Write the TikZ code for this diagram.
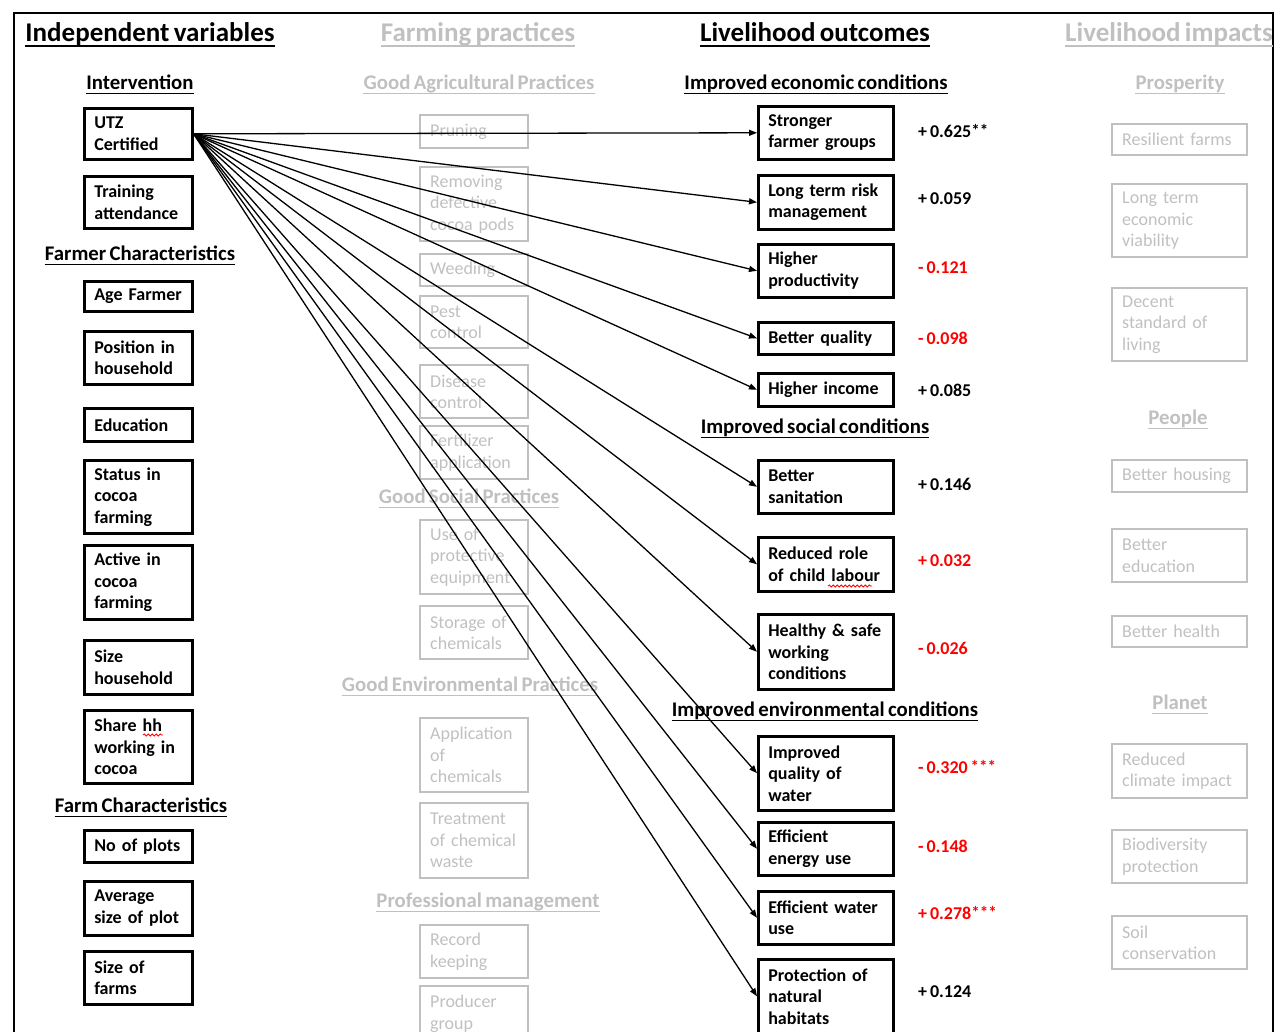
\documentclass[tikz,border=0pt]{standalone}
\usepackage{fontspec}
\setmainfont{Carlito}[WordSpace=0.7]
\usetikzlibrary{arrows.meta,decorations.pathmorphing}
\definecolor{ghost}{RGB}{192,192,192}
\definecolor{sigred}{RGB}{255,0,0}
\newcommand\boxfont{\fontsize{18}{21.5}\selectfont}
\newcommand\Heading[5]{%
    \node[#1] (#2) at (#3,#4) {#5};
    \draw[line width=1.5pt] ([yshift=-4pt]#2.base west) -- ([yshift=-4pt]#2.base east);
}
\newcommand\Effect[4]{%
    \node[effect, text=#4] (#1) at (918,#2) {#3};
}
\newcommand\Stars[1]{\raisebox{1.5pt}{\fontsize{17}{17}\selectfont #1}}

\begin{document}
\begin{tikzpicture}[x=1pt,y=-1pt,
    title/.style={anchor=base, inner sep=0pt, font=\fontsize{27}{30}\selectfont\bfseries},
    sub/.style={anchor=base, inner sep=0pt, font=\fontsize{20.8}{24}\selectfont\bfseries},
    varbox/.style={draw, line width=2.6pt, anchor=north west, align=left,
        text width=88pt, inner xsep=10pt, inner ysep=0pt, font=\boxfont\bfseries},
    pracbox/.style={varbox, line width=2.4pt, font=\boxfont},
    outbox/.style={varbox, text width=115pt},
    impbox/.style={pracbox, text width=115pt},
    effect/.style={anchor=west, inner sep=0pt, font=\boxfont\bfseries},
    link/.style={line width=1.3pt, -{Triangle[length=8pt,width=6pt]}},
    squiggle/.style={color=sigred, line width=0.8pt, decorate,
        decoration={snake, amplitude=1.1pt, segment length=4pt}}]
    \useasboundingbox (0,0) rectangle (1275,1032);
    \draw[line width=1.8pt] (14,1032) -- (14,13) -- (1273,13) -- (1273,1032);

    % independent variables
    \Heading{title}{hIndep}{150}{42}{Independent variables}
    \Heading{sub}{hInterv}{140}{89.5}{Intervention}
    \Heading{sub}{hFarmer}{140}{260.5}{Farmer Characteristics}
    \Heading{sub}{hFarm}{141}{812.5}{Farm Characteristics}
    \node[varbox, minimum height=51pt] (utz) at (83,107) {UTZ\\Certified};
    \node[varbox, minimum height=52pt] (train) at (83,175) {Training\\attendance};
    \node[varbox, minimum height=30pt] (age) at (83,280) {Age Farmer};
    \node[varbox, minimum height=53pt] (pos) at (83,330) {Position in\\household};
    \node[varbox, minimum height=33pt] (edu) at (83,407) {Education};
    \node[varbox, minimum height=73pt] (status) at (83,459) {Status in\\cocoa\\farming};
    \node[varbox, minimum height=74pt] (active) at (83,544) {Active in\\cocoa\\farming};
    \node[varbox, minimum height=54pt] (sizehh) at (83,639) {Size\\household};
    \node[varbox, minimum height=73pt] (share) at (83,709) {Share hh\\working in\\cocoa};
    \node[varbox, minimum height=32pt] (plots) at (83,829) {No of plots};
    \node[varbox, minimum height=54pt] (avgplot) at (83,880) {Average\\size of plot};
    \node[varbox, minimum height=53pt] (farms) at (83,950) {Size of\\farms};

    \begin{scope}[color=ghost] % farming practices
        \Heading{title}{hPract}{478}{42}{Farming practices}
        \Heading{sub}{hAgri}{479}{89.5}{Good Agricultural Practices}
        \Heading{sub}{hSocial}{469}{503.5}{Good Social Practices}
        \Heading{sub}{hEnv}{470}{691.5}{Good Environmental Practices}
        \Heading{sub}{hProf}{488}{907.5}{Professional management}
        \node[pracbox, minimum height=33pt] (prun) at (419,114) {Pruning};
        \node[pracbox, minimum height=74pt] (pods) at (419,166) {Removing\\defective\\cocoa pods};
        \node[pracbox, minimum height=32pt] (weed) at (419,253) {Weeding};
        \node[pracbox, minimum height=52pt] (pest) at (419,295) {Pest\\control};
        \node[pracbox, minimum height=53pt] (disease) at (419,364) {Disease\\control};
        \node[pracbox, minimum height=53pt] (fert) at (419,425) {Fertilizer\\application};
        \node[pracbox, minimum height=74pt] (equip) at (419,519) {Use of\\protective\\equipment};
        \node[pracbox, minimum height=53pt] (storage) at (419,605) {Storage of\\chemicals};
        \node[pracbox, minimum height=74pt] (applic) at (419,717) {Application\\of\\chemicals};
        \node[pracbox, minimum height=75pt] (waste) at (419,802) {Treatment\\of chemical\\waste};
        \node[pracbox, minimum height=53pt] (record) at (419,924) {Record\\keeping};
        \node[pracbox, minimum height=55pt] (producer) at (419,985) {Producer\\group};
    \end{scope}

    % livelihood outcomes
    \Heading{title}{hOutc}{815}{42}{Livelihood outcomes}
    \Heading{sub}{hEcon}{816}{89.5}{Improved economic conditions}
    \Heading{sub}{hSoc}{815}{433.5}{Improved social conditions}
    \Heading{sub}{hEnvc}{825}{716.5}{Improved environmental conditions}
    \node[outbox, minimum height=53pt] (groups) at (757,105) {Stronger\\farmer groups};
    \node[outbox, minimum height=54pt] (risk) at (757,174) {Long term risk\\management};
    \node[outbox, minimum height=53pt] (prod) at (757,243) {Higher\\productivity};
    \node[outbox, minimum height=32pt] (quality) at (757,321) {Better quality};
    \node[outbox, minimum height=33pt] (income) at (757,372) {Higher income};
    \node[outbox, minimum height=53pt] (sanit) at (757,459) {Better\\sanitation};
    \node[outbox, minimum height=54pt] (child) at (757,536) {Reduced role\\of child labour};
    \node[outbox, minimum height=75pt] (safe) at (757,613) {Healthy \& safe\\working\\conditions};
    \node[outbox, minimum height=74pt] (water) at (757,735) {Improved\\quality of\\water};
    \node[outbox, minimum height=53pt] (energy) at (757,821) {Efficient\\energy use};
    \node[outbox, minimum height=53pt] (wateruse) at (757,890) {Efficient water\\use};
    \node[outbox, minimum height=74pt] (habitat) at (757,958) {Protection of\\natural\\habitats};

    \Effect{eGroups}{131}{+ 0.625\Stars{**}}{black}
    \Effect{eRisk}{199}{+ 0.059}{black}
    \Effect{eProd}{268}{- 0.121}{sigred}
    \Effect{eQuality}{338}{- 0.098}{sigred}
    \Effect{eIncome}{390}{+ 0.085}{black}
    \Effect{eSanit}{484}{+ 0.146}{black}
    \Effect{eChild}{561}{+ 0.032}{sigred}
    \Effect{eSafe}{648}{- 0.026}{sigred}
    \Effect{eWater}{767}{- 0.320 \Stars{***}}{sigred}
    \Effect{eEnergy}{846}{- 0.148}{sigred}
    \Effect{eWateruse}{913}{+ 0.278\Stars{***}}{sigred}
    \Effect{eHabitat}{992}{+ 0.124}{black}

    \begin{scope}[color=ghost] % livelihood impacts
        \node[title, anchor=base west] (hImp) at (1065,42) {Livelihood impacts};
        \draw[line width=1.5pt] ([yshift=-4pt]hImp.base west) -- ([yshift=-4pt]hImp.base east);
        \Heading{sub}{hProsp}{1180}{89.5}{Prosperity}
        \Heading{sub}{hPeople}{1178}{424.5}{People}
        \Heading{sub}{hPlanet}{1180}{709.5}{Planet}
        \node[impbox, minimum height=31pt] (resil) at (1111,123) {Resilient farms};
        \node[impbox, minimum height=73pt] (viab) at (1111,183) {Long term\\economic\\viability};
        \node[impbox, minimum height=73pt] (decent) at (1111,287) {Decent\\standard of\\living};
        \node[impbox, minimum height=32pt] (housing) at (1111,459) {Better housing};
        \node[impbox, minimum height=53pt] (educ) at (1111,528) {Better\\education};
        \node[impbox, minimum height=31pt] (health) at (1111,615) {Better health};
        \node[impbox, minimum height=54pt] (climate) at (1111,743) {Reduced\\climate impact};
        \node[impbox, minimum height=53pt] (biodiv) at (1111,829) {Biodiversity\\protection};
        \node[impbox, minimum height=53pt] (soil) at (1111,915) {Soil\\conservation};
    \end{scope}

    % effects of certification
    \foreach \target in {groups,risk,prod,quality,income,sanit,child,safe,water,energy,wateruse,habitat}
        \draw[link] (utz.east) -- (\target.west);

    \draw[squiggle] (143,735) -- (163,735);
    \draw[squiggle] (828,586) -- (872,586);
\end{tikzpicture}
\end{document}
